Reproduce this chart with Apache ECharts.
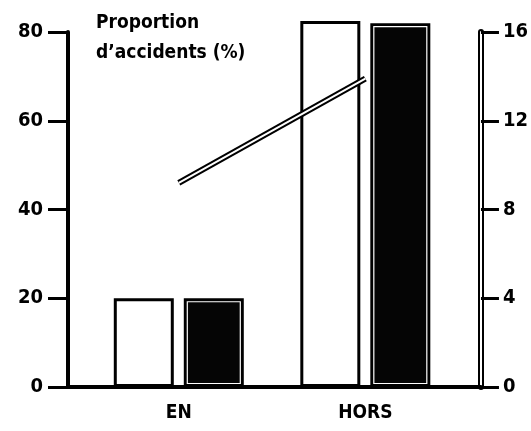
<!DOCTYPE html>
<html>
<head>
<meta charset="utf-8">
<script src="https://cdn.jsdelivr.net/npm/echarts@6/dist/echarts.min.js"></script>
<style>
  html, body { margin: 0; padding: 0; background: #fff; }
  #chart { width: 531px; height: 431px; }
</style>
</head>
<body>
<div id="chart"></div>
<script>
// Accident share, "EN" vs "HORS"
const categories = ['EN', 'HORS'];
const openBars = [20, 82.5];     // left axis, %
const solidBars = [20, 82];      // left axis, %
const lineValues = [9.2, 13.9];  // right axis
const leftTicks = { min: 0, max: 80, interval: 20 };
const rightTicks = { min: 0, max: 16, interval: 4 };
const titleText = 'Proportion\nd\u2019accidents (%)';

const FONT = "'DejaVu Sans Condensed', 'DejaVu Sans', sans-serif";
const WEIGHT = 'bold condensed';
const BAR_W = 60;
const BAR_GAP_PX = 10;
const SOLID_SHIFT = (BAR_W + BAR_GAP_PX) / 2;

const pairs = arr => arr.map((v, i) => [i, v]);

const chart = echarts.init(document.getElementById('chart'), null, { renderer: 'canvas' });

const labelStyle = { color: '#000', fontFamily: FONT, fontWeight: WEIGHT, fontSize: 20 };

chart.setOption({
  animation: false,
  backgroundColor: '#fff',
  title: {
    text: titleText,
    left: 91,
    top: 3,
    textStyle: { color: '#000', fontFamily: FONT, fontWeight: WEIGHT, fontSize: 19, lineHeight: 30 }
  },
  grid: { left: 68, right: 49, top: 32, bottom: 44 },
  xAxis: {
    type: 'value',
    min: -0.594,
    max: 1.62,
    splitLine: { show: false },
    axisTick: { show: false },
    axisLine: { show: true, lineStyle: { color: '#000', width: 4 } },
    axisLabel: {
      customValues: categories.map((c, i) => i),
      formatter: v => categories[Math.round(v)] || '',
      margin: 17,
      ...labelStyle,
      fontSize: 19
    }
  },
  yAxis: [
    {
      type: 'value', position: 'left',
      min: leftTicks.min, max: leftTicks.max, interval: leftTicks.interval,
      splitLine: { show: false },
      axisLine: { show: true, onZero: false, lineStyle: { color: '#000', width: 4 } },
      axisTick: { show: true, inside: false, length: 20, lineStyle: { color: '#000', width: 3 } },
      axisLabel: { margin: 25, ...labelStyle }
    },
    {
      type: 'value', position: 'right',
      min: rightTicks.min, max: rightTicks.max, interval: rightTicks.interval,
      splitLine: { show: false },
      axisLine: { show: true, onZero: false, lineStyle: { color: '#000', width: 6 } },
      axisTick: { show: true, inside: false, length: 18, lineStyle: { color: '#000', width: 3 } },
      axisLabel: { margin: 22, ...labelStyle }
    },
    {
      // inner white stroke giving the right axis its double rule
      type: 'value', position: 'right',
      min: rightTicks.min, max: rightTicks.max, interval: rightTicks.interval,
      splitLine: { show: false },
      axisLine: { show: true, onZero: false, lineStyle: { color: '#fff', width: 2 } },
      axisTick: { show: false },
      axisLabel: { show: false }
    }
  ],
  series: [
    {
      name: 'open',
      type: 'bar',
      yAxisIndex: 0,
      clip: false,
      barWidth: BAR_W,
      barGap: (BAR_GAP_PX / BAR_W * 100) + '%',
      data: pairs(openBars),
      itemStyle: { color: '#fff', borderColor: '#000', borderWidth: 3 }
    },
    {
      name: 'solid',
      type: 'bar',
      yAxisIndex: 0,
      clip: false,
      barWidth: BAR_W,
      barGap: (BAR_GAP_PX / BAR_W * 100) + '%',
      data: pairs(solidBars),
      itemStyle: { color: '#050505', borderColor: '#000', borderWidth: 3 }
    },
    {
      // thin white rule inset inside each solid bar
      name: 'solid-inset',
      type: 'custom',
      yAxisIndex: 0,
      clip: false,
      silent: true,
      z: 4,
      data: pairs(solidBars),
      renderItem: function (params, api) {
        const top = api.coord([api.value(0), api.value(1)]);
        const base = api.coord([api.value(0), 0]);
        const inset = 3.5;
        const cx = top[0] + SOLID_SHIFT;
        return {
          type: 'rect',
          shape: {
            x: cx - BAR_W / 2 + inset,
            y: top[1] + inset,
            width: BAR_W - 2 * inset,
            height: base[1] - top[1] - 2 * inset
          },
          style: { fill: 'transparent', stroke: '#fff', lineWidth: 1.2 }
        };
      }
    },
    {
      name: 'trend-outer',
      type: 'line',
      yAxisIndex: 1,
      data: pairs(lineValues),
      symbol: 'none',
      lineStyle: { color: '#000', width: 6, cap: 'butt' },
      z: 5
    },
    {
      name: 'trend-inner',
      type: 'line',
      yAxisIndex: 1,
      data: pairs(lineValues),
      symbol: 'none',
      lineStyle: { color: '#fff', width: 2, cap: 'butt' },
      z: 6
    }
  ]
});
</script>
</body>
</html>
